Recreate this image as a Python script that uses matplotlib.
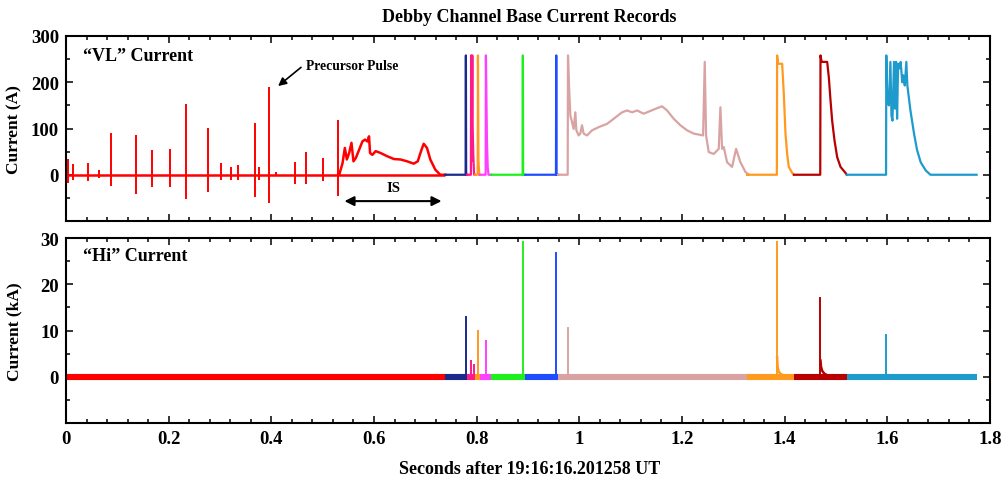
import matplotlib
matplotlib.use('Agg')
import numpy as np
import matplotlib.pyplot as plt
from matplotlib.ticker import MultipleLocator, FuncFormatter

plt.rcParams['font.family'] = ['Liberation Serif', 'DejaVu Serif']
plt.rcParams['font.weight'] = 'bold'

# colours of the record segments
RED = '#ff0000'
NAVY = '#1a2a8c'
PINK = '#ff1a8c'
ORANGE = '#ff9a1e'
MAGENTA = '#ff40ff'
GREEN = '#1ef01e'
BLUE = '#1e4cff'
ROSY = '#d9a3a3'
DARKRED = '#b80000'
LIGHTBLUE = '#1e9bcc'

# segment limits (s) and colours
seg_edges = [0.0, 0.739, 0.781, 0.797, 0.806, 0.8285, 0.8947, 0.9585, 1.327, 1.418, 1.521, 1.774]
seg_colors = [RED, NAVY, PINK, ORANGE, MAGENTA, GREEN, BLUE, ROSY, ORANGE, DARKRED, LIGHTBLUE]

# "VL" record: bipolar pulses in the red part
pulse_t = [0.003, 0.014, 0.042, 0.064, 0.087, 0.136, 0.168, 0.203, 0.233, 0.277, 0.302,
           0.321, 0.336, 0.368, 0.375, 0.395, 0.410, 0.447, 0.468, 0.501, 0.530]
pulse_hi = [34, 24, 25, 11, 90, 85, 53, 56, 154, 101, 25, 17, 22, 111, 16, 189, 6, 27, 50, 36, 119]
pulse_lo = [-17, -12, -13, -7, -25, -41, -27, -27, -52, -38, -12, -11, -11, -48, -11, -61, -2, -20, -20, -14, -47]

# "VL" record: IS current (red)
is_t = [0.530, 0.5323, 0.5387, 0.5432, 0.5471, 0.5516, 0.5561, 0.5600, 0.5645, 0.5710, 0.5774,
        0.5826, 0.5871, 0.5903, 0.5923, 0.5968, 0.6032, 0.6129, 0.6258, 0.6387, 0.6516, 0.6645,
        0.6774, 0.6852, 0.6916, 0.6968, 0.7032, 0.7097, 0.7194, 0.7290, 0.739]
is_a = [0, 0, 25, 58, 33, 47, 69, 29, 36, 54, 72, 76, 72, 83, 47, 43, 51, 47, 40, 34, 33, 29,
        24, 29, 51, 67, 58, 33, 11, 0, 0]

# "VL" record: return strokes, one (t, A) list per colour segment
vl_navy_t = [0.739, 0.7785, 0.779, 0.7795, 0.781]
vl_navy_a = [0, 0, 258, 0, 0]
vl_pink_t = [0.781, 0.7888, 0.7893, 0.7905, 0.7915, 0.792, 0.7935, 0.795, 0.797]
vl_pink_a = [0, 0, 258, 30, 258, 110, 40, 0, 0]
vl_orange1_t = [0.797, 0.802, 0.8025, 0.8035, 0.805, 0.806]
vl_orange1_a = [0, 0, 258, 30, 0, 0]
vl_magenta_t = [0.806, 0.8175, 0.818, 0.820, 0.8215, 0.823, 0.8285]
vl_magenta_a = [0, 0, 258, 74, 17, 0, 0]
vl_green_t = [0.8285, 0.8895, 0.890, 0.8905, 0.8947]
vl_green_a = [0, 0, 258, 0, 0]
vl_blue_t = [0.8947, 0.9545, 0.955, 0.9555, 0.9585]
vl_blue_a = [0, 0, 258, 0, 0]
vl_rosy_t = [0.9585, 0.9773, 0.9779, 0.9799, 0.9825, 0.9857, 0.9889, 0.9922, 0.9942, 0.9987,
             1.0019, 1.0052, 1.0084, 1.0149, 1.0247, 1.0377, 1.0539, 1.0669, 1.0832, 1.0929,
             1.1027, 1.1124, 1.1254, 1.1449, 1.1611, 1.1709, 1.1839, 1.1969, 1.2099, 1.2229,
             1.2411, 1.2443, 1.2469, 1.2521, 1.2618, 1.2716, 1.2748, 1.2781, 1.2813, 1.2878,
             1.2976, 1.3054, 1.3138, 1.3236, 1.3301, 1.327]
vl_rosy_a = [0, 0, 258, 193, 128, 114, 99, 135, 96, 85, 89, 107, 89, 85, 96, 103, 110, 121, 135,
             139, 135, 139, 132, 141, 148, 139, 121, 107, 96, 89, 85, 244, 85, 49, 45, 56, 146,
             56, 60, 27, 17, 56, 27, 6, 0, 0]
vl_orange2_t = [1.327, 1.3848, 1.3853, 1.387, 1.3951, 1.3983, 1.4016, 1.4048, 1.4081, 1.4146, 1.418]
vl_orange2_a = [0, 0, 258, 240, 240, 175, 89, 45, 17, 4, 0]
vl_darkred_t = [1.418, 1.4693, 1.4698, 1.472, 1.4828, 1.4860, 1.4893, 1.4925, 1.4971, 1.5023,
                1.5088, 1.5185, 1.521]
vl_darkred_a = [0, 0, 258, 244, 244, 211, 161, 117, 74, 38, 17, 4, 0]
vl_lightblue_t = [1.521, 1.5975, 1.598, 1.600, 1.603, 1.606, 1.608, 1.610, 1.613, 1.615, 1.617,
                  1.619, 1.621, 1.624, 1.626, 1.629, 1.631, 1.634, 1.637, 1.639, 1.645, 1.652,
                  1.658, 1.665, 1.675, 1.684, 1.774]
vl_lightblue_a = [0, 0, 258, 164, 150, 244, 128, 117, 244, 143, 244, 121, 240, 230, 244, 200,
                  215, 193, 244, 193, 139, 89, 53, 27, 9, 0, 0]

# "Hi" record: peaks (kA)
hi_t = [0.779, 0.7888, 0.7947, 0.8025, 0.8181, 0.8902, 0.9552, 0.9779, 1.3853, 1.4698, 1.598]
hi_peak = [13.0, 3.3, 2.5, 10.0, 7.7, 29.1, 26.7, 10.5, 29.2, 17.0, 9.1]
hi_color = [NAVY, PINK, PINK, ORANGE, MAGENTA, GREEN, BLUE, ROSY, ORANGE, DARKRED, LIGHTBLUE]
# slow tails after the two big peaks
hi_tail_orange_t = [1.3853, 1.3862, 1.388, 1.392, 1.398]
hi_tail_orange_k = [4.2, 2.2, 1.2, 0.6, 0.3]
hi_tail_darkred_t = [1.4698, 1.4708, 1.473, 1.477, 1.483]
hi_tail_darkred_k = [3.5, 2.2, 1.3, 0.7, 0.3]

fig = plt.figure(figsize=(10.01, 4.81), dpi=100)
ax1 = fig.add_axes([66/1001, 1-222/481, 924/1001, 185/481])
ax2 = fig.add_axes([66/1001, 1-424/481, 924/1001, 185/481])

## top panel
ax1.hlines(0, seg_edges[0], seg_edges[1], color=RED, lw=1.8)
ax1.vlines(pulse_t, pulse_lo, pulse_hi, color=RED, lw=1.4)
ax1.plot(is_t, is_a, color=RED, lw=1.8)
vl_lines = [(vl_navy_t, vl_navy_a, NAVY), (vl_pink_t, vl_pink_a, PINK),
            (vl_orange1_t, vl_orange1_a, ORANGE), (vl_magenta_t, vl_magenta_a, MAGENTA),
            (vl_green_t, vl_green_a, GREEN), (vl_blue_t, vl_blue_a, BLUE),
            (vl_rosy_t, vl_rosy_a, ROSY), (vl_orange2_t, vl_orange2_a, ORANGE),
            (vl_darkred_t, vl_darkred_a, DARKRED), (vl_lightblue_t, vl_lightblue_a, LIGHTBLUE)]
for t, a, c in vl_lines:
    ax1.plot(t, a, color=c, lw=1.6)

ax1.set_ylim(-100, 300)
ax1.set_yticks([0, 100, 200, 300])
ax1.yaxis.set_minor_locator(MultipleLocator(50))
ax1.set_ylabel('Current (A)', fontsize=12.5, fontweight='bold')
ax1.text(0.018, 0.897, '\u201cVL\u201d Current', transform=ax1.transAxes,
         fontsize=13, fontweight='bold', va='center')
ax1.annotate('', xy=(0.409, 188), xytext=(0.462, 236),
             arrowprops=dict(arrowstyle='-|>', color='k', lw=1.2, mutation_scale=12))
ax1.text(0.468, 236, 'Precursor Pulse', fontsize=9.8, fontweight='bold', va='center')
ax1.text(0.637, -27, 'IS', fontsize=10.5, fontweight='bold', ha='center', va='center')
ax1.annotate('', xy=(0.537, -57), xytext=(0.737, -57),
             arrowprops=dict(arrowstyle='<|-|>', color='k', lw=1.5, mutation_scale=14))
ax1.tick_params(labelbottom=False)

## bottom panel
for i in range(len(seg_colors)):
    ax2.hlines(0, seg_edges[i], seg_edges[i+1], color=seg_colors[i], lw=4.4)
for t, p, c in zip(hi_t, hi_peak, hi_color):
    ax2.plot([t, t], [0, p], color=c, lw=1.4)
ax2.plot(hi_tail_orange_t, hi_tail_orange_k, color=ORANGE, lw=1.8)
ax2.plot(hi_tail_darkred_t, hi_tail_darkred_k, color=DARKRED, lw=1.8)
ax2.set_ylim(-10, 30)
ax2.set_yticks([0, 10, 20, 30])
ax2.yaxis.set_minor_locator(MultipleLocator(5))
ax2.set_ylabel('Current (kA)', fontsize=12.5, fontweight='bold')
ax2.text(0.018, 0.904, '\u201cHi\u201d Current', transform=ax2.transAxes,
         fontsize=13, fontweight='bold', va='center')

for ax in (ax1, ax2):
    ax.set_xlim(0, 1.8)
    ax.set_xticks(np.arange(0, 1.81, 0.2))
    ax.xaxis.set_minor_locator(MultipleLocator(0.04))
    ax.xaxis.set_major_formatter(FuncFormatter(lambda v, p: '%g' % round(v, 2)))
    ax.tick_params(which='both', direction='in', top=True, right=True, width=1.1, labelsize=13.5)
    ax.tick_params(which='major', length=5, pad=5)
    ax.tick_params(which='minor', length=3)
    for s in ax.spines.values():
        s.set_linewidth(1.5)
    ax.yaxis.set_label_coords(-0.047, 0.5)

fig.text(529/1001, 1-17/481, 'Debby Channel Base Current Records', ha='center', va='center',
         fontsize=13, fontweight='bold')
fig.text(530/1001, 1-470/481, 'Seconds after 19:16:16.201258 UT', ha='center', va='center',
         fontsize=13, fontweight='bold')

plt.savefig('out.png', dpi=100)
